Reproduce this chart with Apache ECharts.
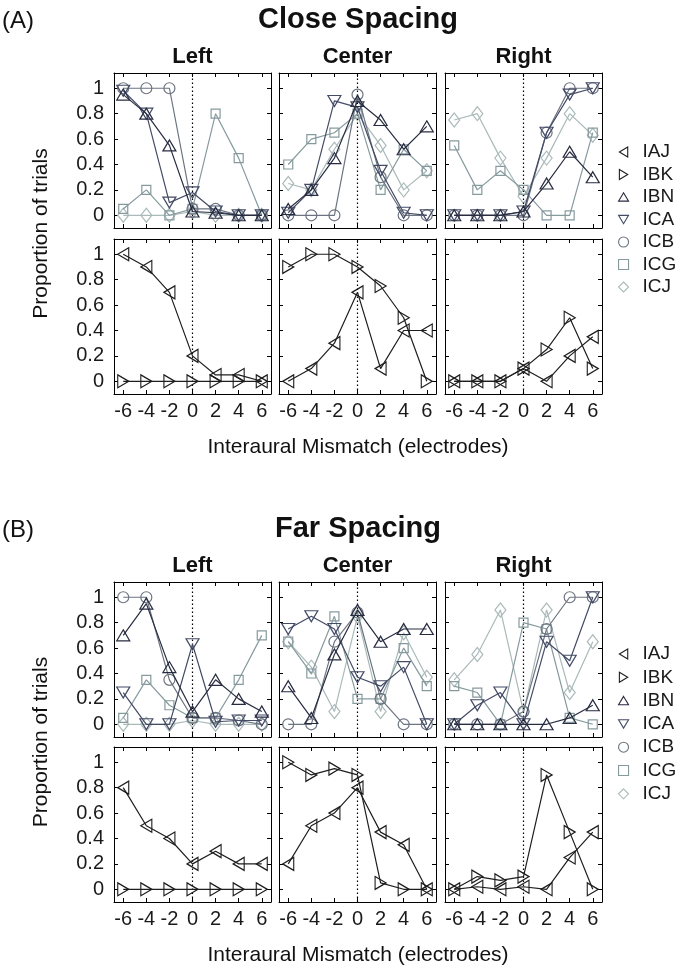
<!DOCTYPE html>
<html><head><meta charset="utf-8">
<script src="https://cdn.jsdelivr.net/npm/echarts@6/dist/echarts.min.js"></script>
<style>html,body{margin:0;padding:0;background:#fff}#c{width:676px;height:975px}</style>
</head><body><div id="c"></div>
<script>
// ---------- DATA ----------
const xMismatch = [-6, -4, -2, 0, 2, 4, 6];
const yTickValues = [0, 0.2, 0.4, 0.6, 0.8, 1];
const subjects = ['IAJ', 'IBK', 'IBN', 'ICA', 'ICB', 'ICG', 'ICJ'];
const columnTitles = ['Left', 'Center', 'Right'];
const panelLetters = ['(A)', '(B)'];
const panelTitles = ['Close Spacing', 'Far Spacing'];
const xAxisTitle = 'Interaural Mismatch (electrodes)';
const yAxisTitle = 'Proportion of trials';

// (A) Close spacing, top row
const closeLeftIBN   = [0.95, 0.8, 0.55, 0.03, 0.02, 0, 0];
const closeLeftICA   = [0.98, 0.8, 0.1, 0.18, 0.03, 0, 0];
const closeLeftICB   = [1, 1, 1, 0.05, 0.05, 0, 0];
const closeLeftICG   = [0.05, 0.2, 0, 0.05, 0.8, 0.45, 0];
const closeLeftICJ   = [0, 0, 0, 0.03, 0, 0, 0];
const closeCenterIBN = [0.05, 0.2, 0.45, 0.9, 0.75, 0.52, 0.7];
const closeCenterICA = [0.02, 0.2, 0.9, 0.85, 0.35, 0.02, 0];
const closeCenterICB = [0, 0, 0, 0.95, 0.3, 0, 0];
const closeCenterICG = [0.4, 0.6, 0.65, 0.8, 0.2, 0.52, 0.35];
const closeCenterICJ = [0.25, 0.2, 0.52, 0.8, 0.55, 0.2, 0.35];
const closeRightIBN  = [0, 0, 0, 0.03, 0.25, 0.5, 0.3];
const closeRightICA  = [0, 0, 0, 0.03, 0.65, 0.95, 1];
const closeRightICB  = [0, 0, 0, 0, 0.65, 1, 1];
const closeRightICG  = [0.55, 0.2, 0.35, 0.2, 0, 0, 0.65];
const closeRightICJ  = [0.75, 0.8, 0.45, 0.15, 0.45, 0.8, 0.63];
// (A) Close spacing, bottom row
const closeLeftIAJ   = [1, 0.9, 0.7, 0.2, 0.05, 0.05, 0];
const closeLeftIBK   = [0, 0, 0, 0, 0, 0, 0];
const closeCenterIAJ = [0, 0.1, 0.3, 0.7, 0.1, 0.4, 0.4];
const closeCenterIBK = [0.9, 1, 1, 0.9, 0.75, 0.5, 0];
const closeRightIAJ  = [0, 0, 0, 0.1, 0, 0.2, 0.35];
const closeRightIBK  = [0, 0, 0, 0.1, 0.25, 0.5, 0.1];

// (B) Far spacing, top row
const farLeftIBN   = [0.7, 0.95, 0.45, 0.1, 0.35, 0.2, 0.1];
const farLeftICA   = [0.25, 0, 0, 0.63, 0.02, 0.03, 0.03];
const farLeftICB   = [1, 1, 0.35, 0.05, 0.05, 0.03, 0];
const farLeftICG   = [0.05, 0.35, 0.15, 0.05, 0.05, 0.35, 0.7];
const farLeftICJ   = [0, 0, 0, 0.03, 0, 0, 0];
const farCenterIBN = [0.3, 0.05, 0.55, 0.9, 0.65, 0.75, 0.75];
const farCenterICA = [0.75, 0.85, 0.75, 0.37, 0.3, 0.45, 0];
const farCenterICB = [0, 0, 0.65, 0.88, 0.2, 0, 0];
const farCenterICG = [0.65, 0.4, 0.85, 0.2, 0.2, 0.6, 0.3];
const farCenterICJ = [0.65, 0.45, 0.1, 0.85, 0.1, 0.72, 0.37];
const farRightIBN  = [0, 0, 0, 0, 0, 0.05, 0.15];
const farRightICA  = [0, 0.15, 0.25, 0, 0.65, 0.5, 1];
const farRightICB  = [0, 0, 0, 0.1, 0.75, 1, 1];
const farRightICG  = [0.3, 0.25, 0, 0.8, 0.75, 0.05, 0];
const farRightICJ  = [0.35, 0.55, 0.9, 0.1, 0.9, 0.25, 0.65];
// (B) Far spacing, bottom row
const farLeftIAJ   = [0.8, 0.5, 0.4, 0.2, 0.3, 0.2, 0.2];
const farLeftIBK   = [0, 0, 0, 0, 0, 0, 0];
const farCenterIAJ = [0.2, 0.5, 0.6, 0.8, 0.45, 0.35, 0];
const farCenterIBK = [1, 0.9, 0.95, 0.9, 0.05, 0, 0];
const farRightIAJ  = [0, 0.02, 0, 0.02, 0, 0.25, 0.45];
const farRightIBK  = [0, 0.1, 0.07, 0.1, 0.9, 0.45, 0];

// panel -> row -> column -> list of [subject, values]
const panelData = [
  [
    [
      [['IBN', closeLeftIBN], ['ICA', closeLeftICA], ['ICB', closeLeftICB], ['ICG', closeLeftICG], ['ICJ', closeLeftICJ]],
      [['IBN', closeCenterIBN], ['ICA', closeCenterICA], ['ICB', closeCenterICB], ['ICG', closeCenterICG], ['ICJ', closeCenterICJ]],
      [['IBN', closeRightIBN], ['ICA', closeRightICA], ['ICB', closeRightICB], ['ICG', closeRightICG], ['ICJ', closeRightICJ]]
    ],
    [
      [['IAJ', closeLeftIAJ], ['IBK', closeLeftIBK]],
      [['IAJ', closeCenterIAJ], ['IBK', closeCenterIBK]],
      [['IAJ', closeRightIAJ], ['IBK', closeRightIBK]]
    ]
  ],
  [
    [
      [['IBN', farLeftIBN], ['ICA', farLeftICA], ['ICB', farLeftICB], ['ICG', farLeftICG], ['ICJ', farLeftICJ]],
      [['IBN', farCenterIBN], ['ICA', farCenterICA], ['ICB', farCenterICB], ['ICG', farCenterICG], ['ICJ', farCenterICJ]],
      [['IBN', farRightIBN], ['ICA', farRightICA], ['ICB', farRightICB], ['ICG', farRightICG], ['ICJ', farRightICJ]]
    ],
    [
      [['IAJ', farLeftIAJ], ['IBK', farLeftIBK]],
      [['IAJ', farCenterIAJ], ['IBK', farCenterIBK]],
      [['IAJ', farRightIAJ], ['IBK', farRightIBK]]
    ]
  ]
];

// ---------- STYLE ----------
const FONT = '"Liberation Sans", Arial, Helvetica, sans-serif';
const styleBy = {
  IAJ: { color: '#1e1e1e', symbol: 'path://M10,0L10,12L0,6Z', size: [11, 13], icon: 'path://M10,0L10,12L0,6Z' },
  IBK: { color: '#1e1e1e', symbol: 'path://M0,0L0,12L10,6Z', size: [11, 13], icon: 'path://M0,0L0,12L10,6Z' },
  IBN: { color: '#282c40', symbol: 'path://M6,0L12,10L0,10Z', size: [13, 11], icon: 'path://M6,0L12,10L0,10Z' },
  ICA: { color: '#444b66', symbol: 'path://M0,0L12,0L6,10Z', size: [13, 11], icon: 'path://M0,0L12,0L6,10Z' },
  ICB: { color: '#6c7480', symbol: 'circle', size: 11, icon: 'circle' },
  ICG: { color: '#869a9d', symbol: 'rect', size: 9, icon: 'rect' },
  ICJ: { color: '#aabab9', symbol: 'diamond', size: [11, 14], icon: 'diamond' }
};
const colLeft = [114, 279, 445];
const plotW = 157, plotH = 155;
const rowTop = [[73, 239], [582, 747]];
const X_MIN = -6.8, X_MAX = 6.8, Y_MIN = -0.1, Y_MAX = 1.12;
const axisLineStyle = { show: true, onZero: false, lineStyle: { color: '#000', width: 1 } };

const grids = [], xAxes = [], yAxes = [], series = [];
for (let p = 0; p < 2; p++) {
  for (let r = 0; r < 2; r++) {
    for (let c = 0; c < 3; c++) {
      const g = grids.length;
      grids.push({ left: colLeft[c], top: rowTop[p][r], width: plotW, height: plotH, outerBoundsMode: 'none', containLabel: false });
      const tick = (vals) => ({ show: true, inside: true, length: 4, customValues: vals, lineStyle: { color: '#000', width: 1 } });
      xAxes.push({
        type: 'value', gridIndex: g, position: 'bottom', min: X_MIN, max: X_MAX,
        axisLine: axisLineStyle, axisTick: tick(xMismatch), splitLine: { show: false },
        axisLabel: { show: r === 1, customValues: xMismatch, fontSize: 20, color: '#1a1a1a', fontFamily: FONT, margin: 7, formatter: v => String(v) }
      });
      xAxes.push({
        type: 'value', gridIndex: g, position: 'top', min: X_MIN, max: X_MAX,
        axisLine: axisLineStyle, axisTick: tick(xMismatch), splitLine: { show: false },
        axisLabel: { show: false }
      });
      yAxes.push({
        type: 'value', gridIndex: g, position: 'left', min: Y_MIN, max: Y_MAX,
        axisLine: axisLineStyle, axisTick: tick(yTickValues), splitLine: { show: false },
        axisLabel: { show: c === 0, customValues: yTickValues, fontSize: 20, color: '#1a1a1a', fontFamily: FONT, margin: 10, formatter: v => String(v) }
      });
      yAxes.push({
        type: 'value', gridIndex: g, position: 'right', min: Y_MIN, max: Y_MAX,
        axisLine: axisLineStyle, axisTick: tick(yTickValues), splitLine: { show: false },
        axisLabel: { show: false }
      });
      panelData[p][r][c].forEach(([name, vals], k) => {
        const st = styleBy[name];
        const s = {
          type: 'line', name, xAxisIndex: 2 * g, yAxisIndex: 2 * g,
          data: xMismatch.map((x, i) => [x, vals[i]]),
          symbol: st.symbol, symbolSize: st.size, showAllSymbol: true,
          lineStyle: { color: st.color, width: 1.2 },
          itemStyle: { color: 'transparent', borderColor: st.color, borderWidth: 1.2 },
          emphasis: { disabled: true }, silent: true, animation: false,
          z: 3 + (7 - subjects.indexOf(name))
        };
        if (k === 0) {
          s.markLine = {
            silent: true, symbol: ['none', 'none'], animation: false,
            label: { show: false },
            lineStyle: { color: '#000', type: [1.5, 2.5], width: 1.2 },
            emphasis: { disabled: true },
            data: [{ xAxis: 0 }]
          };
        }
        series.push(s);
      });
    }
  }
}

const legendTops = [136, 638];
const legendGaps = [0.5, 1.3];
const legends = legendTops.map((top, i) => ({
  orient: 'vertical', left: 613, top, itemWidth: 10, itemHeight: 10, itemGap: legendGaps[i],
  selectedMode: false,
  textStyle: { fontSize: 19, fontFamily: FONT, color: '#1a1a1a', lineHeight: 22, padding: [0, 0, 0, 9] },
  data: subjects.map(n => ({
    name: n, icon: styleBy[n].icon,
    itemStyle: { color: 'transparent', borderColor: styleBy[n].color, borderWidth: 1.1 }
  }))
}));

const colCenters = colLeft.map(l => l + plotW / 2);
const plotMidX = (colLeft[0] + colLeft[2] + plotW) / 2;
const graphic = [];
const txt = (text, x, y, size, weight, align, rot) => ({
  type: 'text', x, y, rotation: rot || 0, silent: true,
  style: { text, font: `${weight} ${size}px ${FONT}`, fill: '#111', textAlign: align, textVerticalAlign: 'middle' }
});
for (let p = 0; p < 2; p++) {
  const top = rowTop[p][0];
  const bottom = rowTop[p][1] + plotH;
  graphic.push(txt(panelLetters[p], 2, top - 52, 24, 'normal', 'left'));
  graphic.push(txt(panelTitles[p], plotMidX, top - 53, 29, 'bold', 'center'));
  columnTitles.forEach((t, c) => graphic.push(txt(t, colCenters[c], top - 16, 22, 'bold', 'center')));
  graphic.push(txt(yAxisTitle, 41, (top + bottom) / 2, 21, 'normal', 'center', Math.PI / 2));
  graphic.push(txt(xAxisTitle, plotMidX, bottom + 53, 21, 'normal', 'center'));
}

const chart = echarts.init(document.getElementById('c'), null, { renderer: 'canvas', width: 676, height: 975 });
chart.setOption({
  animation: false,
  backgroundColor: '#fff',
  grid: grids, xAxis: xAxes, yAxis: yAxes, series,
  legend: legends, graphic
});
</script>
</body></html>
